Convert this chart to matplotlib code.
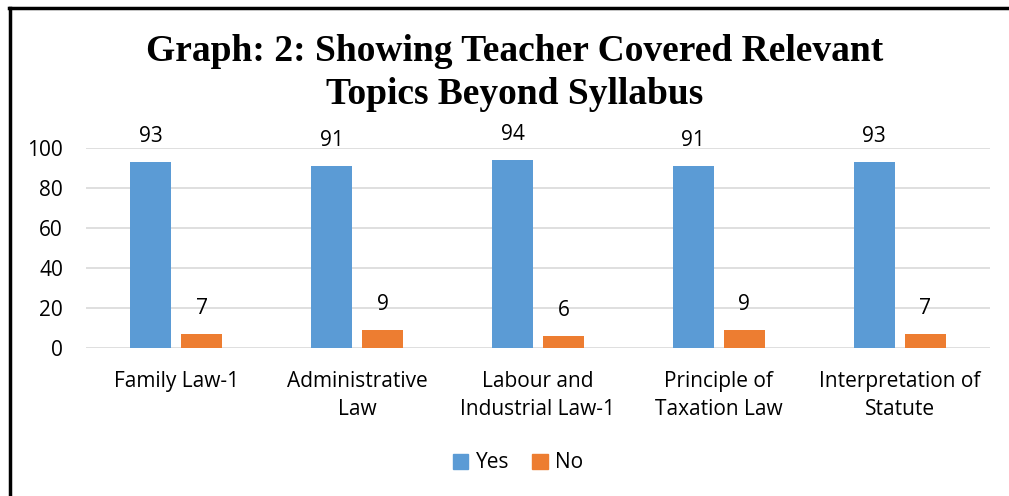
import matplotlib
matplotlib.use("Agg")
import matplotlib.pyplot as plt
import numpy as np
from matplotlib.lines import Line2D

categories = ["Family Law-1", "Administrative\nLaw", "Labour and\nIndustrial Law-1",
              "Principle of\nTaxation Law", "Interpretation of\nStatute"]
yes_vals = [93, 91, 94, 91, 93]
no_vals = [7, 9, 6, 9, 7]
yticks = [0, 20, 40, 60, 80, 100]
title = "Graph: 2: Showing Teacher Covered Relevant\nTopics Beyond Syllabus"

blue = "#5B9BD5"
orange = "#ED7D31"
sans = "Open Sans"
fs = 15

fig = plt.figure(figsize=(10.09, 4.96), dpi=100)
ax = fig.add_axes([86/1009, 148/496, 904/1009, 200/496])

x = np.arange(len(categories))
w = 0.227
off = 0.141
ax.bar(x - off, yes_vals, w, color=blue, label="Yes", zorder=3)
ax.bar(x + off, no_vals, w, color=orange, label="No", zorder=3)

for xi, v in zip(x, yes_vals):
    ax.text(xi - off, v + 12.5, str(v), ha="center", va="center", fontsize=fs,
            family=sans, color="#000000", clip_on=False)
for xi, v in zip(x, no_vals):
    ax.text(xi + off, v + 13, str(v), ha="center", va="center", fontsize=fs,
            family=sans, color="#000000", clip_on=False)

ax.set_xlim(-0.5, len(categories) - 0.5)
ax.set_ylim(0, 100)
ax.set_yticks(yticks)
ax.set_yticklabels([str(t) for t in yticks], fontsize=fs, family=sans)
ax.set_xticks(x)
ax.set_xticklabels(categories, fontsize=fs, family=sans, linespacing=1.42)
ax.tick_params(axis="both", length=0, colors="#000000")
ax.tick_params(axis="y", pad=16.5)
ax.tick_params(axis="x", pad=16.5)
ax.yaxis.grid(True, color="#D9D9D9", linewidth=1.2, zorder=0)
for s in ax.spines.values():
    s.set_visible(False)

fig.text(515/1009, 1 - 73/496, title, ha="center", va="center",
         fontsize=27, fontweight="bold", family="Liberation Serif",
         linespacing=1.3)

handles = [plt.Rectangle((0, 0), 1, 1, color=blue), plt.Rectangle((0, 0), 1, 1, color=orange)]
fig.legend(handles, ["Yes", "No"], loc="center", bbox_to_anchor=(518/1009, 1 - 463/496),
           ncol=2, frameon=False, prop={"family": sans, "size": fs},
           handlelength=0.75, handleheight=0.75, handletextpad=0.35, columnspacing=1.1)

# border (left and top)
fig.add_artist(Line2D([10/1009, 10/1009], [0, 1 - 8/496], color="black", linewidth=2.5,
                      transform=fig.transFigure))
fig.add_artist(Line2D([9/1009, 1], [1 - 8/496, 1 - 8/496], color="black", linewidth=2.5,
                      transform=fig.transFigure))

fig.savefig("out.png", dpi=100)
